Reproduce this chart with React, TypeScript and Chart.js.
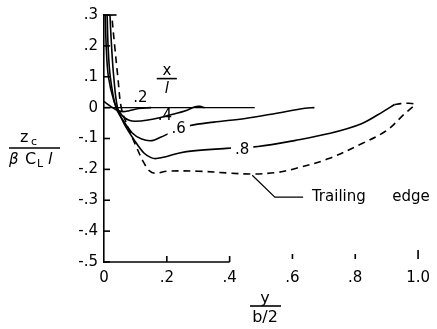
import { useEffect, useRef } from 'react';
import { Chart, registerables } from 'chart.js';

Chart.register(...registerables);

// ---- data (y/(b/2) spanwise station, z_c/(beta C_L l) camber) ----
const xTickValues = [0, 0.2, 0.4, 0.6, 0.8, 1.0];
const yTickValues = [0.3, 0.2, 0.1, 0, -0.1, -0.2, -0.3, -0.4, -0.5];

const zeroSpan = [0, 0.48];
const zeroCamber = [0, 0];

const span02 = [0, 0.02, 0.04, 0.06, 0.08, 0.11, 0.15];
const camber02 = [0.02, 0.005, -0.008, -0.013, -0.01, -0.003, 0];

const span04 = [0.002, 0.004, 0.007, 0.014, 0.032, 0.047, 0.062, 0.08, 0.1, 0.14, 0.18, 0.216, 0.26, 0.29, 0.305, 0.32];
const camber04 = [0.36, 0.3, 0.2, 0.1, 0.02, -0.01, -0.03, -0.041, -0.044, -0.04, -0.032, -0.022, -0.01, 0.003, 0.004, 0];

const span06 = [0.008, 0.01, 0.013, 0.02, 0.038, 0.06, 0.09, 0.12, 0.153, 0.18, 0.22, 0.275, 0.35, 0.45, 0.55, 0.64, 0.67];
const camber06 = [0.36, 0.3, 0.2, 0.1, 0, -0.04, -0.082, -0.102, -0.107, -0.096, -0.078, -0.058, -0.047, -0.035, -0.018, -0.002, 0];

const span08 = [0.017, 0.019, 0.024, 0.031, 0.043, 0.063, 0.097, 0.128, 0.15, 0.166, 0.2, 0.24, 0.284, 0.39, 0.49, 0.61, 0.716, 0.82, 0.89, 0.925];
const camber08 = [0.36, 0.3, 0.2, 0.1, 0, -0.05, -0.106, -0.148, -0.162, -0.165, -0.158, -0.147, -0.14, -0.132, -0.126, -0.106, -0.084, -0.052, -0.012, 0.01];

const spanTE = [0.023, 0.025, 0.034, 0.044, 0.055, 0.075, 0.1, 0.125, 0.145, 0.165, 0.2, 0.3, 0.4, 0.47, 0.55, 0.61, 0.716, 0.82, 0.9, 0.957, 0.98, 0.99, 0.97, 0.945, 0.925];
const camberTE = [0.36, 0.3, 0.2, 0.1, 0, -0.06, -0.12, -0.175, -0.205, -0.213, -0.206, -0.206, -0.212, -0.215, -0.21, -0.197, -0.165, -0.117, -0.074, -0.02, 0.0, 0.01, 0.014, 0.013, 0.01];

const curveLabels = ['.2', '.4', '.6', '.8'];
const curveLabelSpan = [0.116, 0.194, 0.238, 0.44];
const curveLabelCamber = [0.032, -0.029, -0.071, -0.139];

const FONT = '"DejaVu Sans", "Liberation Sans", Arial, sans-serif';

function pts(xs: number[], ys: number[]) {
  return xs.map((x, i) => ({ x, y: ys[i] }));
}

function fmt(v: number): string {
  if (Math.abs(v) < 1e-9) return '0';
  if (Math.abs(v - 1) < 1e-9) return '1.0';
  const s = Math.abs(v).toFixed(1).replace(/^0/, '');
  return (v < 0 ? '-' : '') + s;
}

const decorPlugin = {
  id: 'decor',
  afterDraw(chart: any) {
    const { ctx } = chart;
    const xs = chart.scales.x;
    const ys = chart.scales.y;
    const px = (v: number) => xs.getPixelForValue(v);
    const py = (v: number) => ys.getPixelForValue(v);
    const seg = (x1: number, y1: number, x2: number, y2: number) => {
      ctx.beginPath();
      ctx.moveTo(x1, y1);
      ctx.lineTo(x2, y2);
      ctx.stroke();
    };
    ctx.save();
    ctx.strokeStyle = '#000';
    ctx.fillStyle = '#000';
    ctx.lineWidth = 1.6;
    ctx.lineCap = 'butt';

    // x axis line drawn only up to .4
    const yb = py(-0.5);
    seg(px(0), yb, px(0.4), yb);
    // x tick marks (inward)
    xTickValues.forEach((v) => {
      if (v === 0) return;
      if (v <= 0.4) seg(px(v), yb, px(v), yb - 6);
      else seg(px(v), yb - 3, px(v), yb - (v === 1 ? 12 : 8));
    });
    // y tick marks (inward)
    yTickValues.forEach((v) => {
      seg(px(0), py(v), px(0) + 6, py(v));
    });
    // top bracket
    seg(px(0), py(0.3), px(0.04), py(0.3));

    // curve labels with white knock-out behind
    ctx.font = `15px ${FONT}`;
    ctx.textAlign = 'center';
    ctx.textBaseline = 'middle';
    curveLabels.forEach((t, i) => {
      const cx = px(curveLabelSpan[i]);
      const cy = py(curveLabelCamber[i]);
      const w = ctx.measureText(t).width + 8;
      if (i >= 2) {
        ctx.fillStyle = '#fff';
        ctx.fillRect(cx - w / 2, cy - 8, w, 16);
      }
      ctx.fillStyle = '#000';
      ctx.fillText(t, cx, cy);
    });

    // x/l fraction
    const fx = px(0.2);
    ctx.font = `15px ${FONT}`;
    ctx.fillText('x', fx, py(0.117));
    seg(px(0.168), py(0.094), px(0.232), py(0.094));
    ctx.font = `italic 15px ${FONT}`;
    ctx.fillText('l', fx, py(0.06));

    // Trailing edge leader + text
    ctx.lineWidth = 1.2;
    ctx.beginPath();
    ctx.moveTo(px(0.472), py(-0.219));
    ctx.lineTo(px(0.544), py(-0.29));
    ctx.lineTo(px(0.634), py(-0.29));
    ctx.stroke();
    ctx.font = `15px ${FONT}`;
    ctx.textAlign = 'left';
    ctx.fillText('Trailing', px(0.662), py(-0.29));
    ctx.fillText('edge', px(0.918), py(-0.29));

    // y-axis title: z_c / (beta C_L l)
    ctx.textAlign = 'left';
    ctx.textBaseline = 'alphabetic';
    ctx.font = `16px ${FONT}`;
    ctx.fillText('z', 20, 142);
    ctx.font = `11px ${FONT}`;
    ctx.fillText('c', 31, 145);
    ctx.lineWidth = 1.6;
    seg(9, 148, 60, 148);
    ctx.font = `italic 15px ${FONT}`;
    ctx.fillText('β', 9, 164);
    ctx.font = `16px ${FONT}`;
    ctx.fillText('C', 25, 164);
    ctx.font = `11px ${FONT}`;
    ctx.fillText('L', 37, 167);
    ctx.font = `italic 16px ${FONT}`;
    ctx.fillText('l', 48, 164);

    // x-axis title: y / (b/2)
    ctx.textAlign = 'center';
    ctx.font = `16px ${FONT}`;
    ctx.fillText('y', 265, 303);
    seg(250, 306, 281, 306);
    ctx.fillText('b/2', 265, 322);

    ctx.restore();
  },
};

export default function App() {
  const ref = useRef<HTMLCanvasElement | null>(null);
  useEffect(() => {
    if (!ref.current) return;
    const solid = (data: any[]) => ({
      data,
      borderColor: '#000',
      borderWidth: 1.6,
      pointRadius: 0,
      showLine: true,
      tension: 0.35,
      fill: false,
    });
    const chart = new Chart(ref.current, {
      type: 'scatter',
      data: {
        datasets: [
          { ...solid(pts(zeroSpan, zeroCamber)), tension: 0, borderWidth: 1.2 },
          solid(pts(span02, camber02)),
          solid(pts(span04, camber04)),
          solid(pts(span06, camber06)),
          solid(pts(span08, camber08)),
          { ...solid(pts(spanTE, camberTE)), borderDash: [7, 5] },
        ],
      },
      options: {
        responsive: false,
        animation: false,
        events: [],
        layout: { padding: { left: 0, right: 13, top: 14, bottom: 0 } },
        plugins: { legend: { display: false }, tooltip: { enabled: false }, title: { display: false } },
        scales: {
          x: {
            type: 'linear',
            min: 0,
            max: 1.0,
            afterFit: (s: any) => { s.height = 67; },
            afterBuildTicks: (s: any) => { s.ticks = xTickValues.map((v) => ({ value: v })); },
            grid: { display: false, drawTicks: false },
            border: { display: false },
            ticks: {
              padding: 7,
              color: '#000',
              font: { size: 15, family: FONT },
              callback: (v: any) => fmt(Number(v)),
              maxRotation: 0,
              autoSkip: false,
            },
          },
          y: {
            type: 'linear',
            min: -0.5,
            max: 0.3,
            afterFit: (s: any) => { s.width = 104; },
            afterBuildTicks: (s: any) => { s.ticks = yTickValues.map((v) => ({ value: v })); },
            grid: { display: false, drawTicks: false },
            border: { display: true, color: '#000', width: 1.6 },
            ticks: {
              padding: 6,
              color: '#000',
              font: { size: 15, family: FONT },
              callback: (v: any) => fmt(Number(v)),
              autoSkip: false,
            },
          },
        },
      },
      plugins: [decorPlugin],
    });
    return () => chart.destroy();
  }, []);
  return (
    <div style={{ position: 'absolute', left: 0, top: 0, width: 437, height: 329, background: '#fff' }}>
      <canvas ref={ref} width={437} height={329} style={{ display: 'block' }} />
    </div>
  );
}
